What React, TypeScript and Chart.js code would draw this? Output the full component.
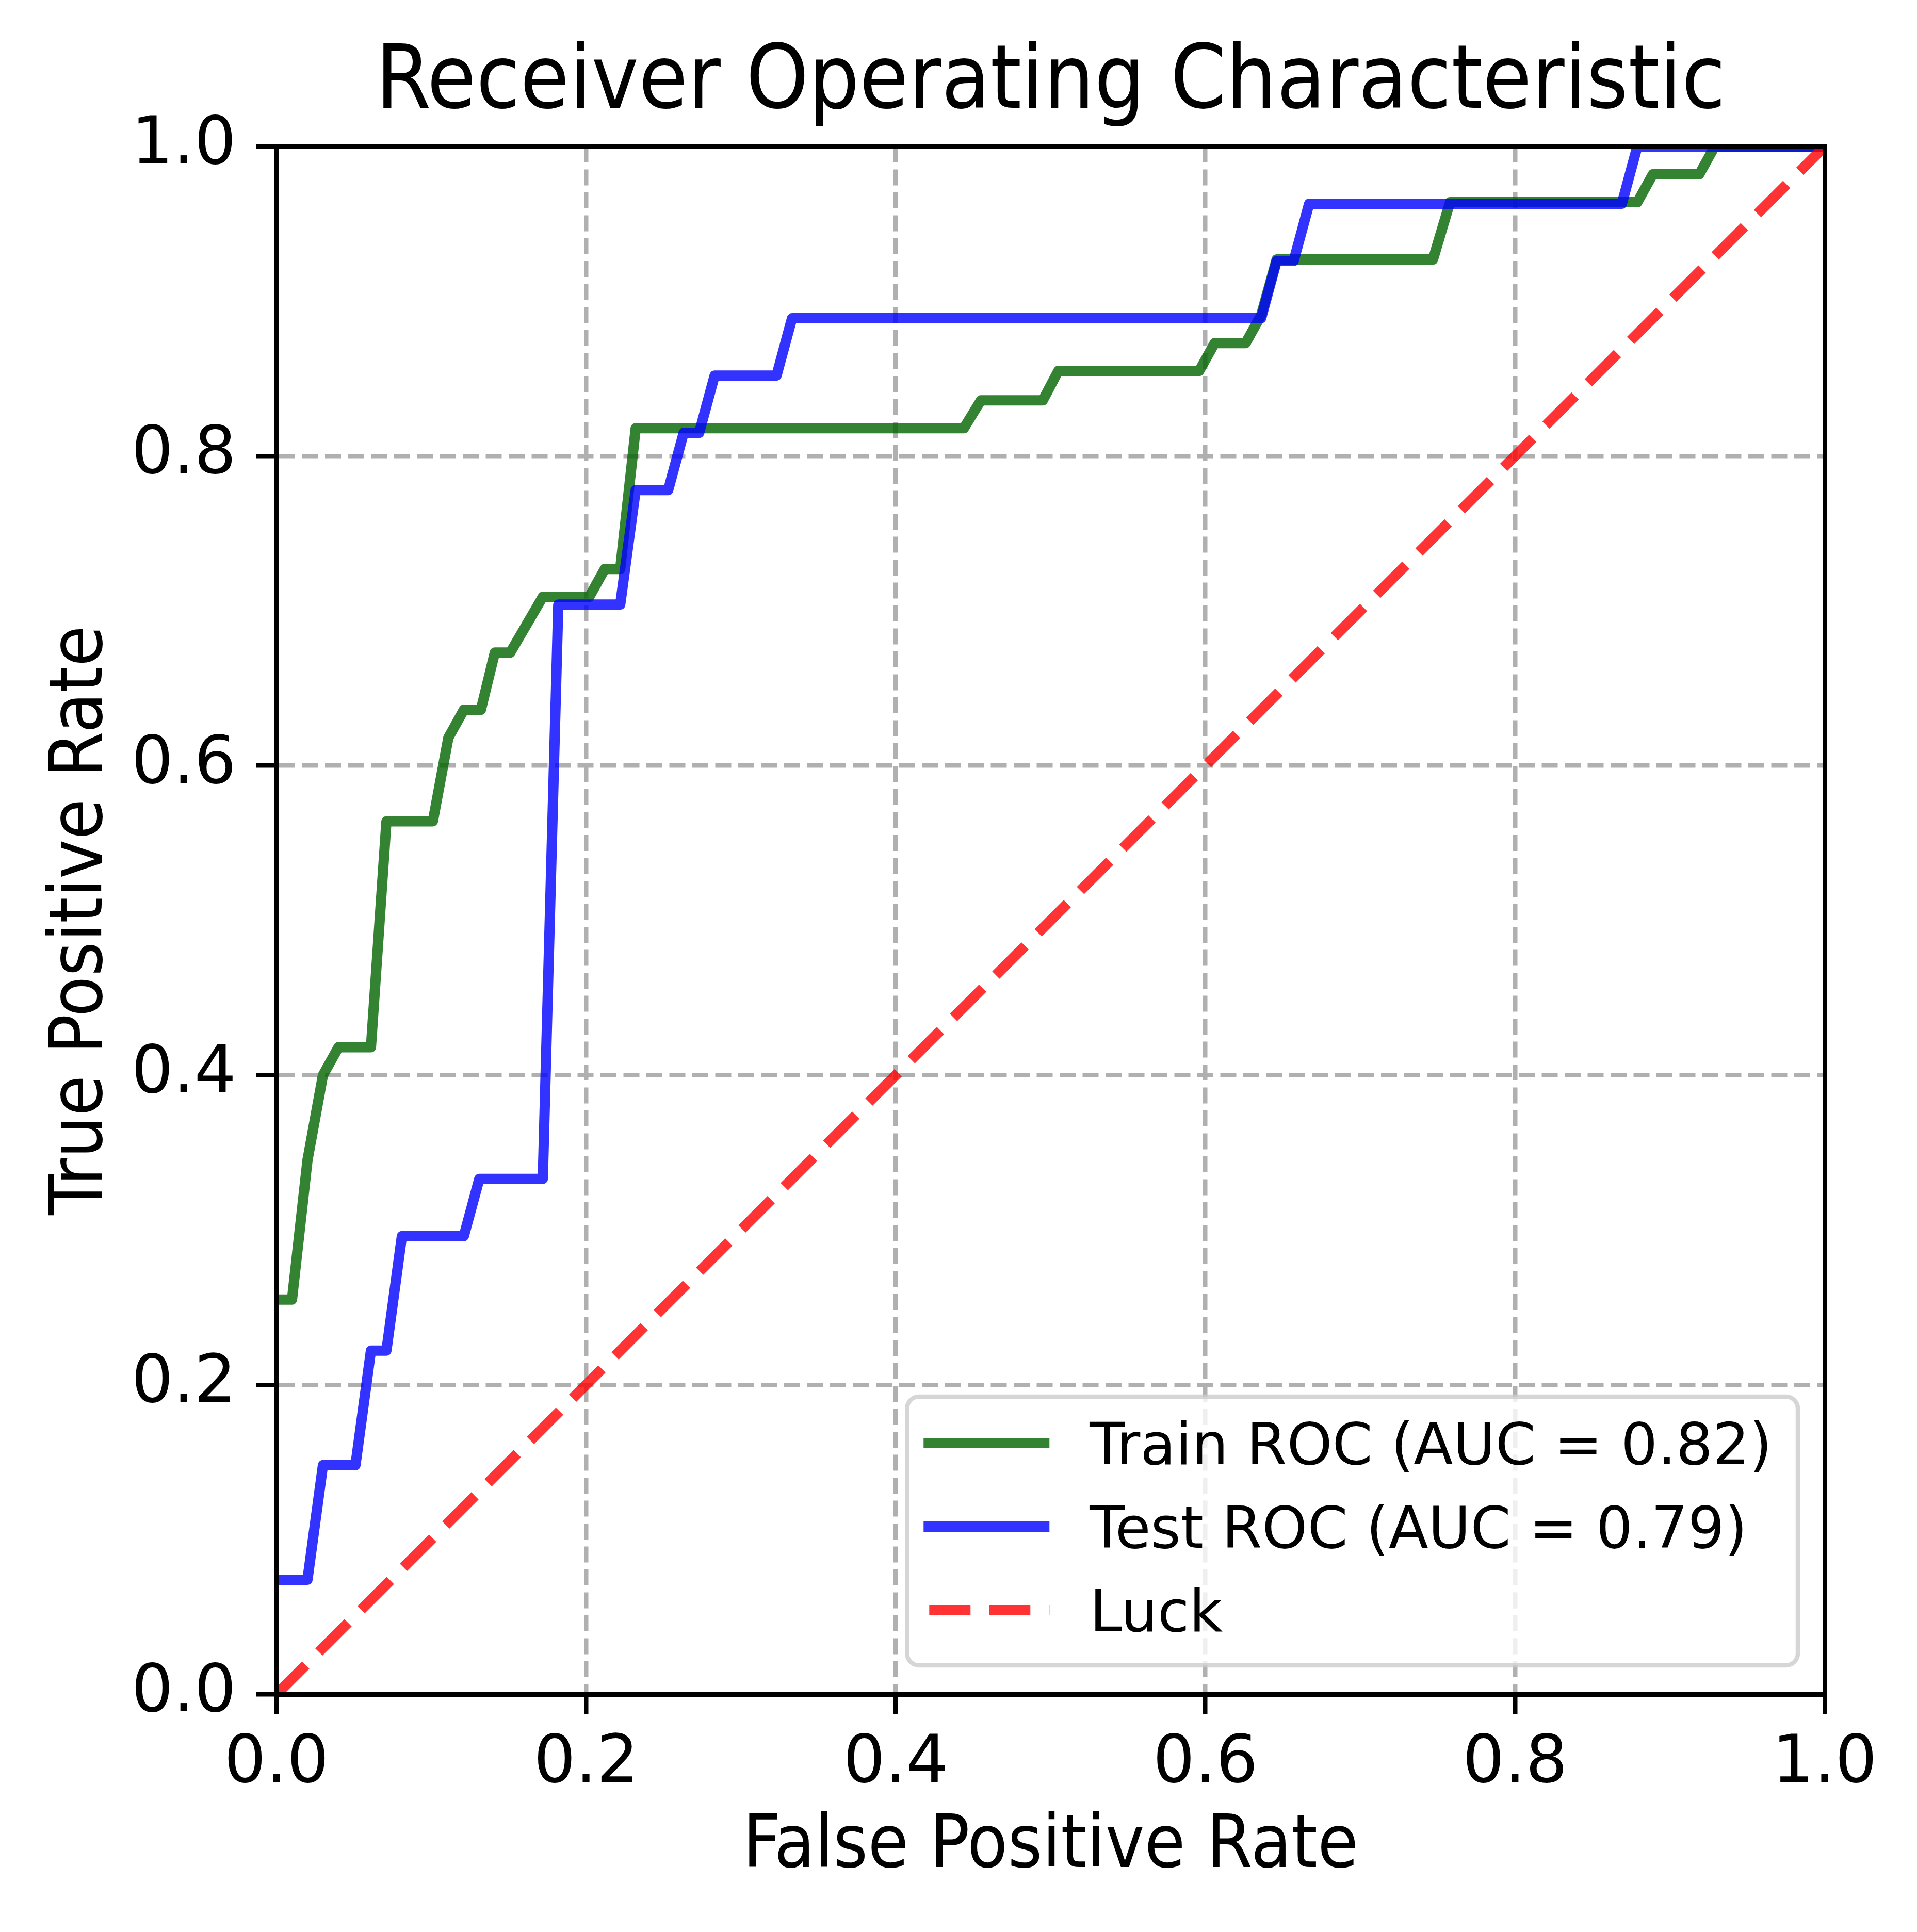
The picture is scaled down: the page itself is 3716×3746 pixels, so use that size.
import React, { useEffect, useRef } from "react";
import { Chart, registerables } from "chart.js";

Chart.register(...registerables);

const W = 3716;
const H = 3746;

// ---- data ----
const trainFpr = [0, 0.010, 0.020, 0.030, 0.040, 0.061, 0.071, 0.101, 0.111, 0.121, 0.132, 0.141, 0.151, 0.172, 0.202, 0.212, 0.222, 0.232, 0.444, 0.455, 0.495, 0.505, 0.596, 0.606, 0.626, 0.636, 0.646, 0.747, 0.758, 0.879, 0.889, 0.919, 0.929, 1.0];
const trainTpr = [0.255, 0.255, 0.345, 0.400, 0.418, 0.418, 0.564, 0.564, 0.618, 0.636, 0.636, 0.673, 0.673, 0.709, 0.709, 0.727, 0.727, 0.818, 0.818, 0.836, 0.836, 0.855, 0.855, 0.873, 0.873, 0.891, 0.927, 0.927, 0.964, 0.964, 0.982, 0.982, 1.0, 1.0];

const testFpr = [0, 0.020, 0.030, 0.051, 0.061, 0.071, 0.081, 0.121, 0.131, 0.172, 0.182, 0.222, 0.232, 0.253, 0.263, 0.273, 0.283, 0.323, 0.333, 0.636, 0.646, 0.657, 0.667, 0.869, 0.879, 1.0];
const testTpr = [0.074, 0.074, 0.148, 0.148, 0.222, 0.222, 0.296, 0.296, 0.333, 0.333, 0.704, 0.704, 0.778, 0.778, 0.815, 0.815, 0.852, 0.852, 0.889, 0.889, 0.926, 0.926, 0.963, 0.963, 1.0, 1.0];

const luckFpr = [0, 1];
const luckTpr = [0, 1];

const xTickValues = [0, 0.2, 0.4, 0.6, 0.8, 1.0];
const yTickValues = [0, 0.2, 0.4, 0.6, 0.8, 1.0];

const seriesLabels = ["Train ROC (AUC = 0.82)", "Test ROC (AUC = 0.79)", "Luck"];
const titleText = "Receiver Operating Characteristic";
const xLabelText = "False Positive Rate";
const yLabelText = "True Positive Rate";

const COND = "'DejaVu Sans Condensed', 'DejaVu Sans', sans-serif";
const SANS = "'DejaVu Sans', sans-serif";

const toPoints = (xs: number[], ys: number[]) => xs.map((x, i) => ({ x, y: ys[i] }));

const legendPlugin = {
  id: "mplLegend",
  afterDraw(chart: any) {
    const { ctx, chartArea } = chart;
    const ds = chart.data.datasets;
    const fs = 112;
    ctx.save();
    ctx.font = `${fs}px ${SANS}`;
    const textW = Math.max(...ds.map((d: any) => ctx.measureText(d.label).width));
    const padL = 32, handleLen = 244, gap = 78, padR = 50, rowH = 162, padTop = 90, padBottom = 107;
    const boxW = padL + handleLen + gap + textW + padR;
    const boxH = padTop + rowH * (ds.length - 1) + padBottom;
    const right = chartArea.right - 52;
    const bottom = chartArea.bottom - 56;
    const left = right - boxW;
    const top = bottom - boxH;
    ctx.beginPath();
    (ctx as any).roundRect(left, top, boxW, boxH, 23);
    ctx.fillStyle = "rgba(255,255,255,0.8)";
    ctx.fill();
    ctx.lineWidth = 8.5;
    ctx.strokeStyle = "rgba(204,204,204,0.8)";
    ctx.stroke();
    ds.forEach((d: any, i: number) => {
      const cy = top + padTop + i * rowH;
      ctx.save();
      ctx.beginPath();
      const dash = d.borderDash || [];
      ctx.setLineDash(dash);
      if (dash.length) ctx.lineDashOffset = dash[0] + dash[1] - 11;
      ctx.lineWidth = d.borderWidth;
      ctx.strokeStyle = d.borderColor;
      ctx.lineCap = "butt";
      ctx.moveTo(left + padL, cy);
      ctx.lineTo(left + padL + handleLen, cy);
      ctx.stroke();
      ctx.restore();
      ctx.fillStyle = "#000";
      ctx.textBaseline = "alphabetic";
      ctx.textAlign = "left";
      ctx.fillText(d.label, left + padL + handleLen + gap, cy + 0.3645 * fs);
    });
    ctx.restore();
  },
};

export default function App() {
  const ref = useRef<HTMLCanvasElement | null>(null);

  useEffect(() => {
    const canvas = ref.current;
    if (!canvas) return;
    const tickFmt = (v: any) => Number(v).toFixed(1);
    const gridCommon = {
      color: "#b0b0b0",
      lineWidth: 8.5,
      tickColor: "#000",
      tickWidth: 8.5,
      tickLength: 39,
      drawTicks: true,
      drawOnChartArea: true,
    };
    const borderCommon = { display: true, color: "#000", width: 9, dash: [31, 13.5], z: 1 };
    const chart = new Chart(canvas, {
      type: "line",
      data: {
        datasets: [
          {
            label: seriesLabels[0],
            data: toPoints(trainFpr, trainTpr),
            borderColor: "rgba(0,100,0,0.8)",
            borderWidth: 20,
            borderJoinStyle: "round",
            borderCapStyle: "butt",
            pointRadius: 0,
            fill: false,
            tension: 0,
            clip: 0,
            order: 3,
          },
          {
            label: seriesLabels[1],
            data: toPoints(testFpr, testTpr),
            borderColor: "rgba(0,0,255,0.8)",
            borderWidth: 20,
            borderJoinStyle: "round",
            borderCapStyle: "butt",
            pointRadius: 0,
            fill: false,
            tension: 0,
            clip: 0,
            order: 2,
          },
          {
            label: seriesLabels[2],
            data: toPoints(luckFpr, luckTpr),
            borderColor: "rgba(255,0,0,0.8)",
            borderWidth: 20,
            borderDash: [80, 36],
            borderCapStyle: "butt",
            pointRadius: 0,
            fill: false,
            tension: 0,
            clip: 0,
            order: 1,
          },
        ] as any,
      },
      options: {
        responsive: false,
        animation: false,
        devicePixelRatio: 1,
        events: [],
        layout: { padding: { left: 0, top: 0, right: 179, bottom: 0 } },
        plugins: {
          legend: { display: false },
          tooltip: { enabled: false },
          title: {
            display: true,
            text: titleText,
            color: "#000",
            fullSize: false,
            font: { family: COND, size: 172, weight: "normal", lineHeight: 1 },
            padding: { top: 78.5, bottom: 33.5 },
          },
        },
        scales: {
          x: {
            type: "linear",
            position: "bottom",
            min: 0,
            max: 1,
            afterFit: (s: any) => { s.height = 461; },
            afterBuildTicks: (s: any) => { s.ticks = xTickValues.map((v) => ({ value: v })); },
            ticks: {
              callback: tickFmt,
              color: "#000",
              font: { family: SANS, size: 128, lineHeight: 1 },
              padding: 34,
              maxRotation: 0,
              autoSkip: false,
            },
            grid: gridCommon,
            border: borderCommon,
            title: {
              display: true,
              text: xLabelText,
              color: "#000",
              font: { family: COND, size: 143, lineHeight: 1 },
              padding: { top: 0, bottom: 92 },
            },
          },
          y: {
            type: "linear",
            position: "left",
            min: 0,
            max: 1,
            afterFit: (s: any) => { s.width = 536; },
            afterBuildTicks: (s: any) => { s.ticks = yTickValues.map((v) => ({ value: v })); },
            ticks: {
              callback: tickFmt,
              color: "#000",
              font: { family: SANS, size: 128, lineHeight: 1 },
              padding: 39,
              autoSkip: false,
            },
            grid: gridCommon,
            border: borderCommon,
            title: {
              display: true,
              text: yLabelText,
              color: "#000",
              font: { family: COND, size: 143, lineHeight: 1 },
              padding: { top: 88, bottom: 0 },
            },
          },
          x2: {
            type: "linear",
            position: "top",
            min: 0,
            max: 1,
            afterFit: (s: any) => { s.height = 0; },
            ticks: { display: false },
            grid: { display: true, drawOnChartArea: false, drawTicks: false },
            border: { display: true, color: "#000", width: 9, z: 1 },
          },
          y2: {
            type: "linear",
            position: "right",
            min: 0,
            max: 1,
            afterFit: (s: any) => { s.width = 0; },
            ticks: { display: false },
            grid: { display: true, drawOnChartArea: false, drawTicks: false },
            border: { display: true, color: "#000", width: 9, z: 1 },
          },
        },
      } as any,
      plugins: [legendPlugin as any],
    });
    return () => chart.destroy();
  }, []);

  return (
    <div style={{ position: "absolute", left: 0, top: 0, width: W, height: H, background: "#fff" }}>
      <canvas ref={ref} width={W} height={H} style={{ width: W, height: H, display: "block" }} />
    </div>
  );
}
